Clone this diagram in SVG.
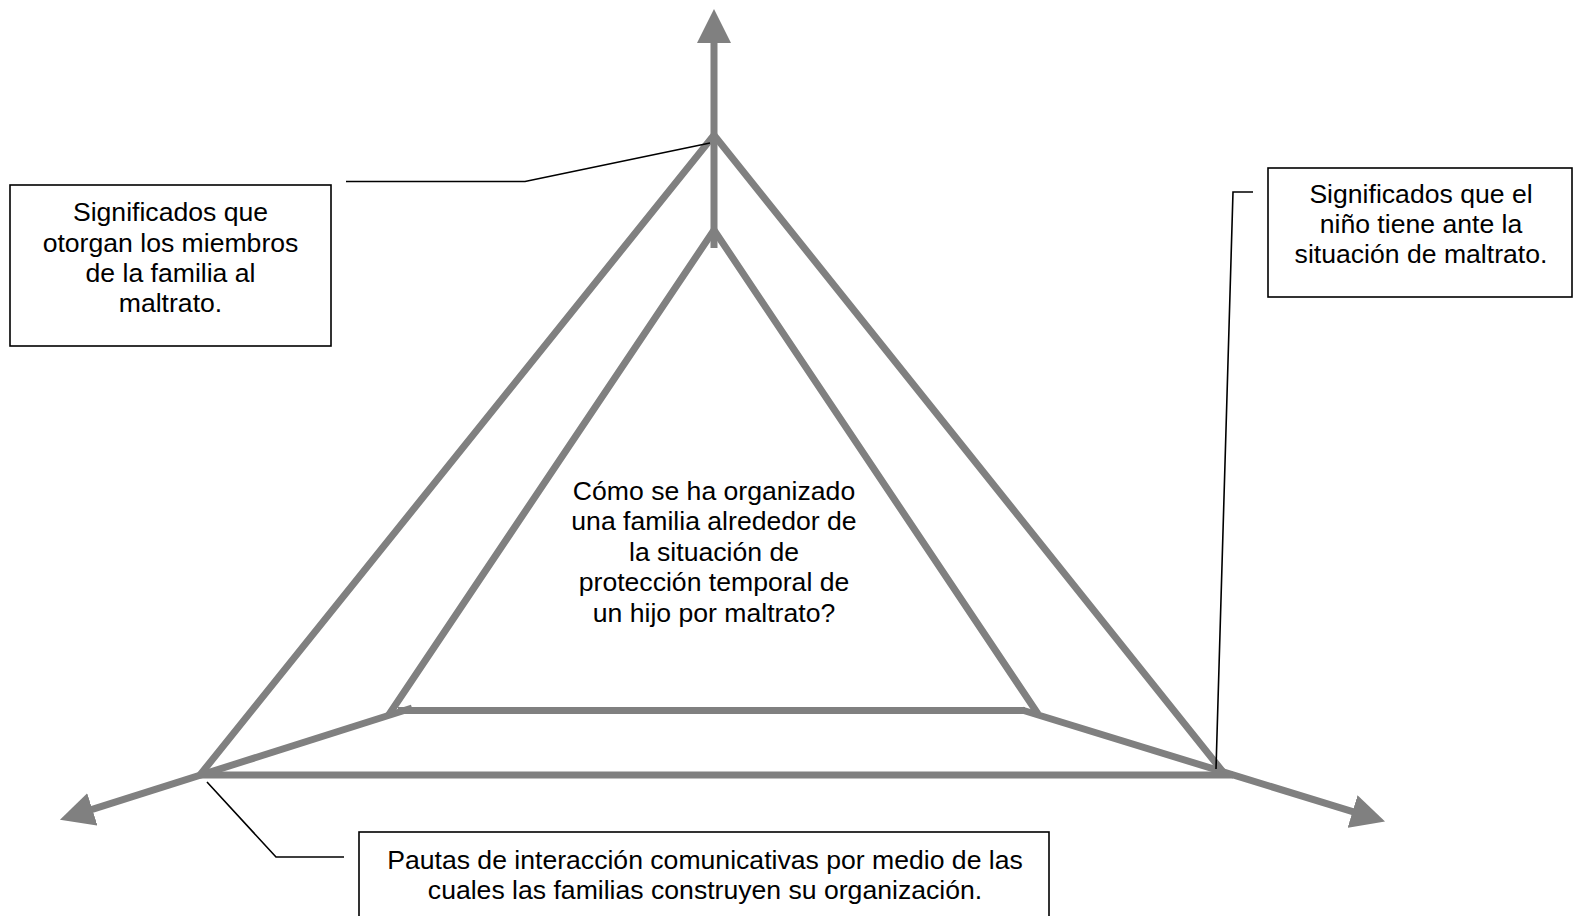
<svg xmlns="http://www.w3.org/2000/svg" width="1573" height="916" viewBox="0 0 1573 916">
<style>
.ax{stroke:#808080;stroke-width:7;fill:none;stroke-linecap:butt;stroke-linejoin:miter}
.ld{stroke:#000;stroke-width:1.6;fill:none}
.box{fill:#fff;stroke:#000;stroke-width:1.6}
.t{font-family:"Liberation Sans",Arial,sans-serif;font-size:26.6px;fill:#000;text-anchor:middle}
</style>
<defs>
<marker id="ah" markerUnits="userSpaceOnUse" viewBox="0 0 34 34" markerWidth="34" markerHeight="34" refX="1" refY="17" orient="auto">
<path d="M0,0 L34,17 L0,34 z" fill="#808080"/>
</marker>
</defs>
<rect width="1573" height="916" fill="#fff"/>
<g id="connectors">
<line class="ax" x1="714" y1="248" x2="714" y2="42" marker-end="url(#ah)"/>
<line class="ax" x1="412" y1="708" x2="91.4" y2="809.7" marker-end="url(#ah)"/>
<line class="ax" x1="1022" y1="710" x2="1353.5" y2="811.9" marker-end="url(#ah)"/>
<polyline class="ax" points="200,775 714,135 1223,772"/>
<line class="ax" x1="200" y1="775" x2="1233" y2="775"/>
<polyline class="ax" points="388,716 714,230 1038,714"/>
<line class="ax" x1="398" y1="710.5" x2="1025" y2="710.5"/>
<polyline class="ld" points="346,181.5 525,181.5 710,143"/>
<polyline class="ld" points="1253,192 1233,192 1216,769"/>
<polyline class="ld" points="207,782 276,857 344,857"/>
</g>
<g id="node-left">
<rect class="box" x="10" y="185" width="321" height="161"/>
<text class="t" x="170.5" y="221">Significados que</text>
<text class="t" x="170.5" y="252">otorgan los miembros</text>
<text class="t" x="170.5" y="282">de la familia al</text>
<text class="t" x="170.5" y="312">maltrato.</text>
</g>
<g id="node-right">
<rect class="box" x="1268" y="168" width="304" height="129"/>
<text class="t" x="1421" y="203">Significados que el</text>
<text class="t" x="1421" y="233">niño tiene ante la</text>
<text class="t" x="1421" y="263">situación de maltrato.</text>
</g>
<g id="node-bottom">
<rect class="box" x="359" y="832" width="690" height="95"/>
<text class="t" x="705" y="869">Pautas de interacción comunicativas por medio de las</text>
<text class="t" x="705" y="899">cuales las familias construyen su organización.</text>
</g>
<g id="node-center">
<text class="t" x="714" y="499.5">Cómo se ha organizado</text>
<text class="t" x="714" y="530">una familia alrededor de</text>
<text class="t" x="714" y="561">la situación de</text>
<text class="t" x="714" y="591">protección temporal de</text>
<text class="t" x="714" y="622">un hijo por maltrato?</text>
</g>
</svg>
